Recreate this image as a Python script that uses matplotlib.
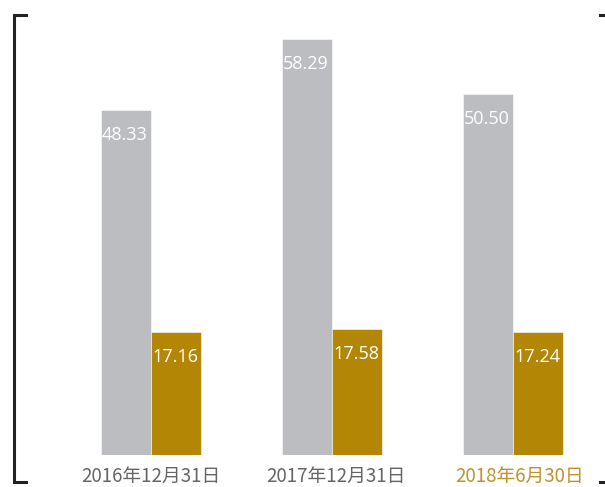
import matplotlib.pyplot as plt
from matplotlib.lines import Line2D
import numpy as np

plt.rcParams['font.family'] = ['Open Sans', 'Noto Sans CJK SC', 'DejaVu Sans']

categories = ['2016年12月31日', '2017年12月31日', '2018年6月30日']
grey_vals = [48.33, 58.29, 50.50]
gold_vals = [17.16, 17.58, 17.24]

grey = '#bcbdc1'
gold = '#b38705'

W, H = 605, 487
fig = plt.figure(figsize=(W / 100, H / 100), dpi=100)
fig.patch.set_facecolor('white')

# axes: bottom of bars at 455 px from top, one group every 181 px
ax = fig.add_axes([0, 32 / H, 1, 455 / H])
ax.set_xlim(-151 / 181, (W - 151) / 181)
ax.set_ylim(0, 455 / 7.14)
ax.axis('off')

x = np.arange(len(categories))
bw = 50 / 181
b1 = ax.bar(x - bw / 2, grey_vals, bw, color=grey, edgecolor='white', linewidth=0.4)
b2 = ax.bar(x + bw / 2, gold_vals, bw, color=gold, edgecolor='white', linewidth=0.4)

for bars, vals in ((b1, grey_vals), (b2, gold_vals)):
    for r, v in zip(bars, vals):
        ax.annotate(f'{v:.2f}', (r.get_x() + r.get_width() / 2, v),
                    xytext=(-1, -25), textcoords='offset pixels',
                    ha='center', va='center', color='white', fontsize=13)

label_colors = ['#666666', '#666666', '#c0922a']
label_shift = [0, 4, 7]
for i, (c, lc, dx) in enumerate(zip(categories, label_colors, label_shift)):
    ax.annotate(c, (i, 0), xytext=(dx, -21), textcoords='offset pixels',
                ha='center', va='center', color=lc, fontsize=13.5,
                family=['Noto Sans CJK SC', 'DejaVu Sans'], annotation_clip=False)

# bracket frame
def px(xp, yp):
    return xp / W, 1 - yp / H

lc = '#222222'
xs, ys = [26, 14, 14, 26], [15, 15, 482, 482]
fig.add_artist(Line2D([px(a, b)[0] for a, b in zip(xs, ys)],
                      [px(a, b)[1] for a, b in zip(xs, ys)],
                      color=lc, linewidth=2.2, solid_joinstyle='miter'))
for yy in (15, 482):
    fig.add_artist(Line2D([px(600, yy)[0], px(605, yy)[0]], [px(600, yy)[1]] * 2,
                          color=lc, linewidth=2.2))

fig.savefig('out.png', dpi=100, facecolor='white')
